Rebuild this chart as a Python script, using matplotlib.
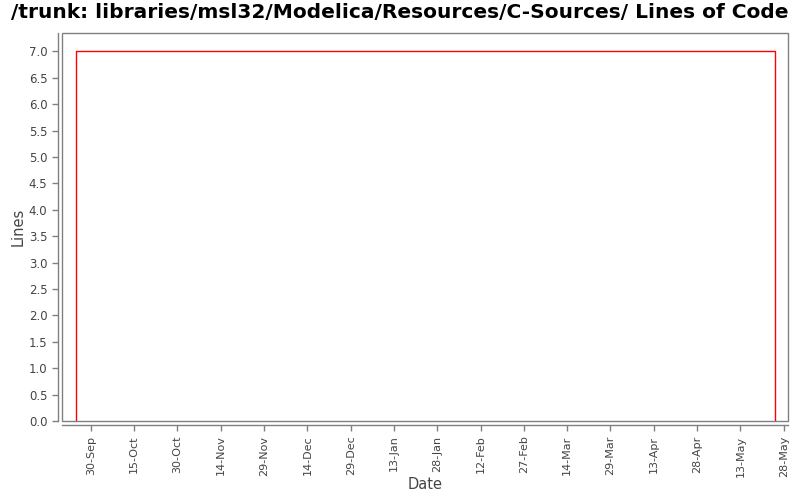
import matplotlib
matplotlib.use("Agg")
import matplotlib.pyplot as plt
import matplotlib.dates as mdates
from matplotlib.patches import Rectangle
import numpy as np

# data
dates = ["2010-09-25", "2011-05-25"]
lines = [7, 7]
tick_dates = ["2010-09-30", "2010-10-15", "2010-10-30", "2010-11-14", "2010-11-29",
              "2010-12-14", "2010-12-29", "2011-01-13", "2011-01-28", "2011-02-12",
              "2011-02-27", "2011-03-14", "2011-03-29", "2011-04-13", "2011-04-28",
              "2011-05-13", "2011-05-28"]
y_ticks = [0.0, 0.5, 1.0, 1.5, 2.0, 2.5, 3.0, 3.5, 4.0, 4.5, 5.0, 5.5, 6.0, 6.5, 7.0]

d = np.array(dates, dtype="datetime64[D]")
# step: rises at first date, drops at last
xs = [d[0], d[0], d[-1], d[-1]]
ys = [0, lines[0], lines[-1], 0]

grey = "#808080"
txt = "#444444"

fig = plt.figure(figsize=(8, 5), dpi=100)
ax = fig.add_axes([62 / 800, 1 - 421 / 500, (788 - 62) / 800, (421 - 33) / 500])

ax.plot(xs, ys, color="red", lw=1.0)

ax.set_xlim(np.datetime64("2010-09-20"), np.datetime64("2011-05-29T12"))
ax.set_ylim(0, 7.35)

ax.set_xticks(np.array(tick_dates, dtype="datetime64[D]"))
ax.xaxis.set_major_formatter(mdates.DateFormatter("%d-%b"))
ax.set_yticks(y_ticks)
ax.set_yticklabels(["%.1f" % v for v in y_ticks])

ax.tick_params(axis="both", colors=grey, labelcolor=txt, labelsize=8.5, length=4, width=1)
ax.tick_params(axis="x", labelrotation=90, labelsize=8)

for s in ["top", "right"]:
    ax.spines[s].set_visible(False)
for s in ["left", "bottom"]:
    ax.spines[s].set_position(("outward", 3))
    ax.spines[s].set_color(grey)
    ax.spines[s].set_linewidth(1)

ax.add_patch(Rectangle((0, 0), 1, 1, transform=ax.transAxes, fill=False,
                       edgecolor=grey, lw=1, clip_on=False))

ax.set_xlabel("Date", fontsize=10.5, color=txt)
ax.xaxis.set_label_coords(0.5, -0.145)
ax.set_ylabel("Lines", fontsize=10.5, color=txt, labelpad=2)

fig.suptitle("/trunk: libraries/msl32/Modelica/Resources/C-Sources/ Lines of Code",
             fontsize=14.5, fontweight="bold", x=0.5, y=0.995, va="top")

fig.savefig("out.png", dpi=100)
